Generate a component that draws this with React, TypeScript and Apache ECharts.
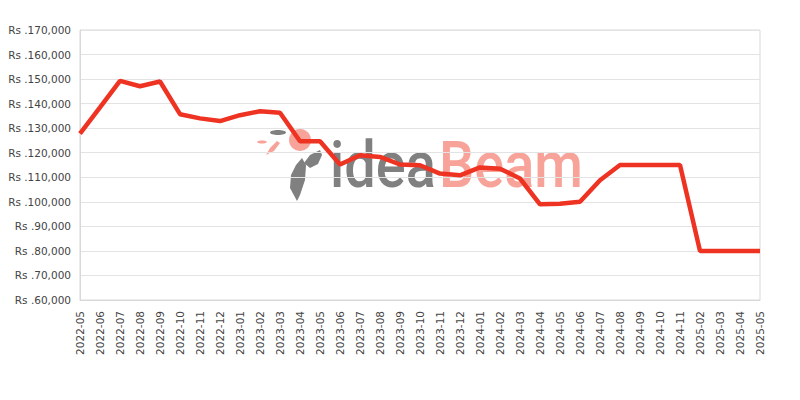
import React, { useEffect, useRef } from "react";
import * as echarts from "echarts";

const categories = [
  "2022-05", "2022-06", "2022-07", "2022-08", "2022-09", "2022-10", "2022-11", "2022-12",
  "2023-01", "2023-02", "2023-03", "2023-04", "2023-05", "2023-06", "2023-07", "2023-08",
  "2023-09", "2023-10", "2023-11", "2023-12", "2024-01", "2024-02", "2024-03", "2024-04",
  "2024-05", "2024-06", "2024-07", "2024-08", "2024-09", "2024-10", "2024-11", "2025-02",
  "2025-03", "2025-04", "2025-05",
];

const prices = [
  127800, 138500, 149300, 147100, 149000, 135700, 134000, 132900,
  135300, 136900, 136300, 124700, 124700, 115200, 119000, 118300,
  115200, 114900, 111500, 110800, 114000, 113500, 109500, 99000,
  99200, 100000, 108800, 115000, 115000, 115000, 115000, 80000,
  80000, 80000, 80000,
];

const yMin = 60000;
const yMax = 170000;
const yStep = 10000;

const GRAY = "#808080";
const SALMON = "#f8a39a";

export default function App() {
  const ref = useRef<HTMLDivElement>(null);
  useEffect(() => {
    document.body.style.margin = "0";
    const chart = echarts.init(ref.current!, null, { renderer: "svg" });
    chart.setOption({
      animation: false,
      backgroundColor: "#ffffff",
      grid: {
        left: 80, right: 40, top: 30, bottom: 100,
        show: true, borderColor: "#d9d9d9", borderWidth: 1,
      },
      graphic: [
        {
          type: "group",
          z: 0,
          silent: true,
          children: [
            {
              type: "text", x: 330, y: 133, scaleX: 0.86,
              style: { x: 0, y: 0, text: "idea", fill: GRAY, fontSize: 65, fontFamily: "Roboto", fontWeight: 500 },
            },
            {
              type: "text", x: 439, y: 133, scaleX: 0.86,
              style: { x: 0, y: 0, text: "Beam", fill: SALMON, fontSize: 65, fontFamily: "Roboto", fontWeight: 500 },
            },
            { type: "circle", shape: { cx: 300, cy: 140, r: 11 }, style: { fill: SALMON } },
            { type: "ellipse", shape: { cx: 278, cy: 132.5, rx: 8, ry: 2.5 }, style: { fill: GRAY } },
            { type: "ellipse", shape: { cx: 262, cy: 142, rx: 5, ry: 1.5 }, style: { fill: SALMON } },
            { type: "polygon", shape: { points: [[266, 155], [270, 148], [277, 141], [280, 143], [274, 151]] }, style: { fill: SALMON } },
            { type: "polygon", shape: { points: [[297, 201], [290, 188], [291, 175], [296, 165], [302, 158], [306, 165], [305, 180], [300, 195]] }, style: { fill: GRAY } },
            { type: "polygon", shape: { points: [[304, 163], [310, 155], [320, 150], [322, 155], [318, 164], [310, 168]] }, style: { fill: GRAY } },
          ],
        },
      ],
      xAxis: {
        type: "category",
        data: categories,
        boundaryGap: false,
        axisLine: { show: true, lineStyle: { color: "#d9d9d9" } },
        axisTick: { show: false },
        axisLabel: { rotate: 90, interval: 0, color: "#444", fontSize: 10.5, margin: 11, fontFamily: "DejaVu Sans" },
        splitLine: { show: false },
      },
      yAxis: {
        type: "value",
        min: yMin,
        max: yMax,
        interval: yStep,
        axisLine: { show: true, lineStyle: { color: "#d9d9d9" } },
        axisTick: { show: false },
        axisLabel: {
          color: "#444",
          fontSize: 10.5,
          margin: 9,
          fontFamily: "DejaVu Sans",
          formatter: (v: number) => "Rs ." + v.toLocaleString("en-US"),
        },
        splitLine: { show: true, lineStyle: { color: "#e3e3e3" } },
      },
      series: [
        {
          type: "line",
          data: prices,
          symbol: "none",
          z: 5,
          lineStyle: { color: "#ee3322", width: 4.5 },
        },
      ],
    });
    return () => chart.dispose();
  }, []);
  return <div ref={ref} style={{ width: 800, height: 400 }} />;
}
